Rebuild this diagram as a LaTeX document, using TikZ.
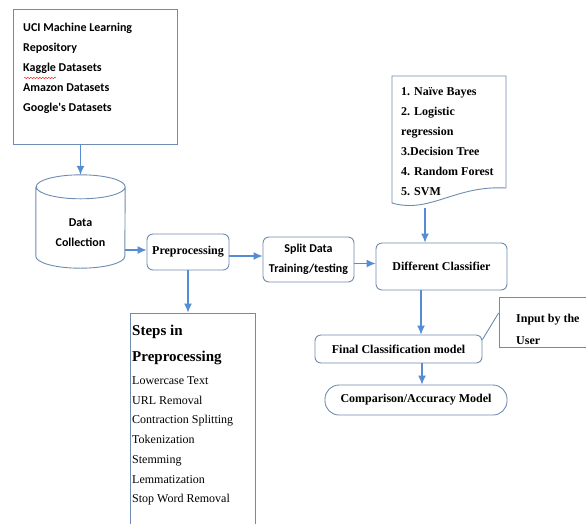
\documentclass[tikz,border=0pt]{standalone}
\usepackage{fontspec}
\setmainfont{Liberation Serif}
\newfontfamily\calib{Carlito}
\usetikzlibrary{arrows.meta,decorations.pathmorphing}
\definecolor{boxc}{RGB}{110,140,175}
\definecolor{arrc}{RGB}{84,141,212}
\tikzset{
    every node/.style={inner sep=0pt, align=left},
    box/.style={draw=boxc, line width=.9pt},
    rbox/.style={box, rounded corners=6pt, align=center},
    arr/.style={draw=arrc, line width=1.1pt, -{Latex[length=9pt,width=8pt]}},
    sans/.style={font=\calib\bfseries\fontsize{12}{20}\selectfont},
    serif/.style={font=\bfseries\fontsize{12}{20}\selectfont}
}

\begin{document}
\begin{tikzpicture}[x=1pt,y=-1pt]
    \useasboundingbox (0,0) rectangle (586,523);
    \node (src) [box, minimum width=164pt, minimum height=135pt] at (95,76.5) {};
    \node (srctxt) [sans, anchor=west] at (23,68) {UCI Machine Learning\\Repository\\Kaggle Datasets\\Amazon Datasets\\Google's Datasets};
    \draw [red, decorate, decoration={snake, amplitude=.7pt, segment length=3pt}] (24,78) -- (56,78);

    \node (dc) [minimum width=89pt, minimum height=93pt] at (80.5,221.5) {};
    \draw [box] ([yshift=-12pt]dc.north west) -- ([yshift=12pt]dc.south west)
        arc[start angle=180, end angle=360, x radius=44.5pt, y radius=12pt]
        -- ([yshift=-12pt]dc.north east)
        arc[start angle=0, end angle=180, x radius=44.5pt, y radius=12pt]
        arc[start angle=180, end angle=360, x radius=44.5pt, y radius=12pt];
    \node (dctxt) [sans, align=center] at (80.5,233) {Data\\Collection};
    \node (pre) [rbox, serif, minimum width=82pt, minimum height=36pt] at (188,252) {Preprocessing};
    \node (split) [rbox, sans, minimum width=91pt, minimum height=45pt] at (308.5,259.5) {Split Data\\Training/testing};
    \node (dcl) [rbox, serif, minimum width=131pt, minimum height=47pt] at (441.5,266.5) {Different Classifier};

    \draw [box] (392,203) -- (392,76) -- (506,76) -- (506,188) .. controls (455,185) and (430,214) .. (392,203) -- cycle;
    \coordinate (clfbot) at (425,208);
    \node (clf) [serif, anchor=west] at (401,142) {1. Naïve Bayes\\2. Logistic\\regression\\3.Decision Tree\\4. Random Forest\\5. SVM};

    \node (final) [rbox, serif, minimum width=167pt, minimum height=28pt] at (398.5,349) {Final Classification model};
    \node (inpbox) [box, minimum width=101pt, minimum height=50pt] at (549.5,322) {};
    \node (inp) [serif, font=\bfseries\fontsize{12}{22}\selectfont, anchor=west] at (516,329) {Input by the\\User};
    \node (cmp) [box, rounded corners=14pt, serif, align=center, minimum width=182pt, minimum height=30pt] at (416,400) {Comparison/Accuracy Model};

    \node (steps) [box, minimum width=125pt, minimum height=217pt] at (192.5,421.5) {};
    \node (stepshd) [font=\bfseries\fontsize{15}{26}\selectfont, anchor=west] at (132,345) {Steps in\\Preprocessing};
    \node (stepslist) [font=\fontsize{12}{19.7}\selectfont, anchor=west] at (132,441) {Lowercase Text\\URL Removal\\Contraction Splitting\\Tokenization\\Stemming\\Lemmatization\\Stop Word Removal};

    \draw (src.south -| dc.north) edge [arr] (dc.north);
    \draw ([yshift=2pt]pre.west -| dc.east) edge [arr] ([yshift=2pt]pre.west);
    \draw ([yshift=-4pt]pre.east) edge [arr] ([yshift=-4pt]pre.east -| split.west);
    \draw ([yshift=-4pt]split.east) edge [arr] ([yshift=-4pt]split.east -| dcl.west);
    \draw (clfbot) edge [arr] (clfbot |- dcl.north);
    \draw ([xshift=-20.5pt]dcl.south) edge [arr] ([xshift=-20.5pt]dcl.south |- final.north);
    \draw ([xshift=23.5pt]final.south) edge [arr] ([xshift=23.5pt]final.south |- cmp.north);
    \draw (pre.south) edge [arr] (pre.south |- steps.north);
    \draw ([yshift=-5pt]final.north east) edge [box] ([yshift=9pt]inpbox.west);
\end{tikzpicture}
\end{document}
